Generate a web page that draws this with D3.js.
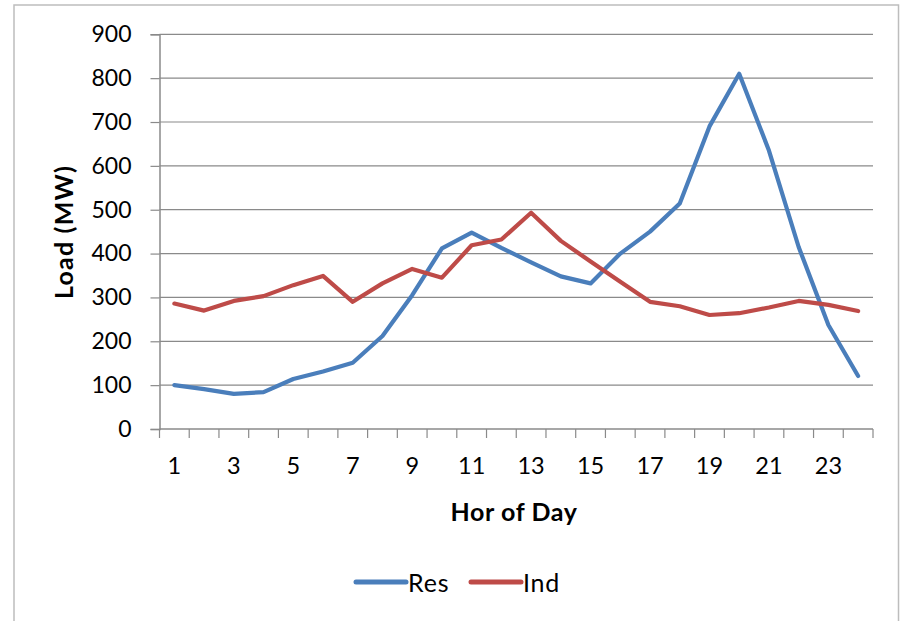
<!DOCTYPE html>
<html>
<head>
<meta charset="utf-8">
<script src="https://cdn.jsdelivr.net/npm/d3@7"></script>
<style>
  html, body { margin: 0; padding: 0; background: #fff; }
  svg { display: block; }
  text { font-family: Lato, "Open Sans", sans-serif; fill: #000; }
</style>
</head>
<body>
<svg id="chart" width="900" height="621"></svg>
<script>
const hours = d3.range(1, 25);
const resLoad = [100, 91, 80, 84, 114, 131, 151, 212, 305, 412, 448, 413, 380, 348, 332, 400, 450, 514, 690, 810, 635, 415, 237, 121];
const indLoad = [286, 270, 292, 303, 328, 349, 290, 332, 365, 345, 419, 432, 493, 429, 382, 336, 290, 280, 260, 264, 277, 292, 283, 269];
const yTicks = [0, 100, 200, 300, 400, 500, 600, 700, 800, 900];
const xTickLabels = [1, 3, 5, 7, 9, 11, 13, 15, 17, 19, 21, 23];
const seriesNames = ["Res", "Ind"];
const seriesColors = ["#4A7EBB", "#BE4B48"];

const svg = d3.select("#chart");
const plotLeft = 159.5, plotRight = 873, plotTop = 34.3, plotBottom = 429;

// outer border
svg.append("rect").attr("x", 14).attr("y", 5).attr("width", 884.5).attr("height", 630)
  .attr("fill", "none").attr("stroke", "#bdbdbd").attr("stroke-width", 1.5);

const x = d3.scaleBand().domain(hours).range([plotLeft, plotRight]).paddingInner(0).paddingOuter(0);
const y = d3.scaleLinear().domain([0, 900]).range([plotBottom, plotTop]);

// gridlines
svg.append("g").selectAll("line").data(yTicks.filter(d => d > 0)).join("line")
  .attr("x1", plotLeft).attr("x2", plotRight)
  .attr("y1", d => y(d)).attr("y2", d => y(d))
  .attr("stroke", "#8a8a8a").attr("stroke-width", 1.2);

// y axis
const yAxis = d3.axisLeft(y).tickValues(yTicks).tickSize(9).tickPadding(19).tickFormat(d3.format("d"));
const gy = svg.append("g").attr("transform", `translate(${plotLeft},0)`).call(yAxis);
gy.select(".domain").attr("stroke", "#8a8a8a").attr("stroke-width", 1.5);
gy.selectAll(".tick line").attr("stroke", "#8a8a8a").attr("stroke-width", 1.2);
gy.selectAll(".tick text").attr("font-size", 23).attr("font-family", "Lato, sans-serif").attr("fill", "#111");

// x axis: ticks between categories
const boundaries = d3.range(0, 25).map(i => plotLeft + i * x.bandwidth());
const gx = svg.append("g");
gx.append("line").attr("x1", plotLeft).attr("x2", plotRight).attr("y1", plotBottom).attr("y2", plotBottom)
  .attr("stroke", "#8a8a8a").attr("stroke-width", 1.5);
gx.selectAll("line.tk").data(boundaries).join("line").attr("class", "tk")
  .attr("x1", d => d).attr("x2", d => d).attr("y1", plotBottom).attr("y2", plotBottom + 9)
  .attr("stroke", "#8a8a8a").attr("stroke-width", 1.2);
gx.selectAll("text").data(xTickLabels).join("text")
  .attr("x", d => x(d) + x.bandwidth() / 2).attr("y", 465)
  .attr("text-anchor", "middle").attr("dominant-baseline", "central")
  .attr("font-size", 23.5).attr("fill", "#111")
  .text(d => d);

// axis titles
svg.append("text").attr("x", 514).attr("y", 511).attr("text-anchor", "middle")
  .attr("dominant-baseline", "central").attr("font-size", 25).attr("font-weight", "bold")
  .attr("letter-spacing", 0.6)
  .text("Hor of Day");
svg.append("text").attr("transform", "translate(63,232) rotate(-90)").attr("text-anchor", "middle")
  .attr("dominant-baseline", "central").attr("font-size", 25).attr("font-weight", "bold")
  .attr("letter-spacing", 1.2)
  .text("Load (MW)");

// lines
const line = d3.line().x((d, i) => x(hours[i]) + x.bandwidth() / 2).y(d => y(d));
[resLoad, indLoad].forEach((vals, k) => {
  svg.append("path").datum(vals).attr("d", line).attr("fill", "none")
    .attr("stroke", seriesColors[k]).attr("stroke-width", 4.2)
    .attr("stroke-linejoin", "round").attr("stroke-linecap", "round");
});

// legend
const legendX = [356, 471];
seriesNames.forEach((name, k) => {
  svg.append("line").attr("x1", legendX[k]).attr("x2", legendX[k] + 50).attr("y1", 582).attr("y2", 582)
    .attr("stroke", seriesColors[k]).attr("stroke-width", 5).attr("stroke-linecap", "round");
  svg.append("text").attr("x", legendX[k] + 52).attr("y", 582).attr("dominant-baseline", "central")
    .attr("font-size", 25).attr("letter-spacing", 0.8).attr("fill", "#111").text(name);
});
</script>
</body>
</html>
